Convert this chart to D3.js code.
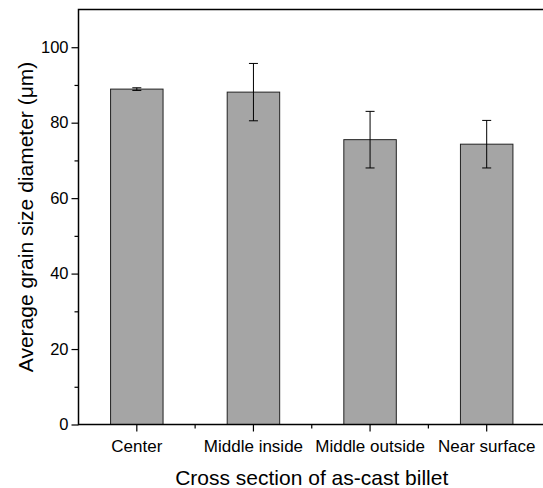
<!DOCTYPE html>
<html><head><meta charset="utf-8">
<script src="https://cdn.jsdelivr.net/npm/d3@7"></script>
<style>body{margin:0;background:#fff;} text{font-family:"Liberation Sans",Arial,sans-serif;fill:#000;}</style>
</head><body>
<svg id="c" width="543" height="488"></svg>
<script>
const categories = ["Center", "Middle inside", "Middle outside", "Near surface"];
const values = [88.9, 88.1, 75.5, 74.3];
const errors = [0.35, 7.6, 7.5, 6.3];
const yTicks = [0, 20, 40, 60, 80, 100];
const yMinorTicks = [10, 30, 50, 70, 90];
const xTitle = "Cross section of as-cast billet";
const yTitle = "Average grain size diameter (μm)";

const svg = d3.select("#c");
const L = 78.5, R = 545, T = 9.5, B = 424.5;
const x = d3.scaleBand().domain(categories).range([L, R]).paddingInner(0.55).paddingOuter(0.275);
const y = d3.scaleLinear().domain([0, 110]).range([B, T]);
const FF = '"Liberation Sans",Arial,sans-serif';

// bars
svg.selectAll("rect.bar").data(values).enter().append("rect")
  .attr("x", (d,i) => x(categories[i]))
  .attr("y", d => y(d))
  .attr("width", x.bandwidth())
  .attr("height", d => B - y(d))
  .attr("fill", "#a5a5a5").attr("stroke", "#222").attr("stroke-width", 1);

// error bars
const eg = svg.append("g").attr("stroke", "#000").attr("stroke-width", 1);
values.forEach((v,i) => {
  const cx = x(categories[i]) + x.bandwidth()/2;
  eg.append("line").attr("x1", cx).attr("x2", cx).attr("y1", y(v+errors[i])).attr("y2", y(v-errors[i]));
  [v+errors[i], v-errors[i]].forEach(e => {
    eg.append("line").attr("x1", cx-4.5).attr("x2", cx+4.5).attr("y1", y(e)).attr("y2", y(e));
  });
});

// frame
svg.append("rect").attr("x", L).attr("y", T).attr("width", R-L).attr("height", B-T)
  .attr("fill", "none").attr("stroke", "#000").attr("stroke-width", 1.5);

// y axis
const ya = svg.append("g").attr("transform", `translate(${L},0)`)
  .call(d3.axisLeft(y).tickValues(yTicks).tickSize(7).tickPadding(3).tickFormat(d3.format("d")));
ya.select(".domain").remove();
ya.selectAll("line").attr("stroke-width", 1.2);
ya.selectAll("text").style("font-size", "16.5px").style("font-family", FF);
const yam = svg.append("g").attr("transform", `translate(${L},0)`)
  .call(d3.axisLeft(y).tickValues(yMinorTicks).tickSize(4).tickFormat(""));
yam.select(".domain").remove();
yam.selectAll("line").attr("stroke-width", 1.2);

// x axis
const xa = svg.append("g").attr("transform", `translate(0,${B})`)
  .call(d3.axisBottom(x).tickSize(7).tickPadding(8));
xa.select(".domain").remove();
xa.selectAll("line").attr("stroke-width", 1.2);
xa.selectAll("text").style("font-size", "17px").style("font-family", FF);
// minor x ticks at boundaries
const bounds = categories.slice(1).map(c => x(c) - x.step()*x.paddingInner()/2);
svg.append("g").selectAll("line").data(bounds).enter().append("line")
  .attr("x1", d => d).attr("x2", d => d).attr("y1", B).attr("y2", B+4)
  .attr("stroke", "#000").attr("stroke-width", 1.2);

// titles
svg.append("text").attr("x", (L+R)/2).attr("y", 485).attr("text-anchor", "middle")
  .style("font-size", "21px").text(xTitle);
svg.append("text").attr("transform", `translate(33,${(T+B)/2}) rotate(-90)`).attr("text-anchor", "middle")
  .style("font-size", "21px").text(yTitle);
</script>
</body></html>
